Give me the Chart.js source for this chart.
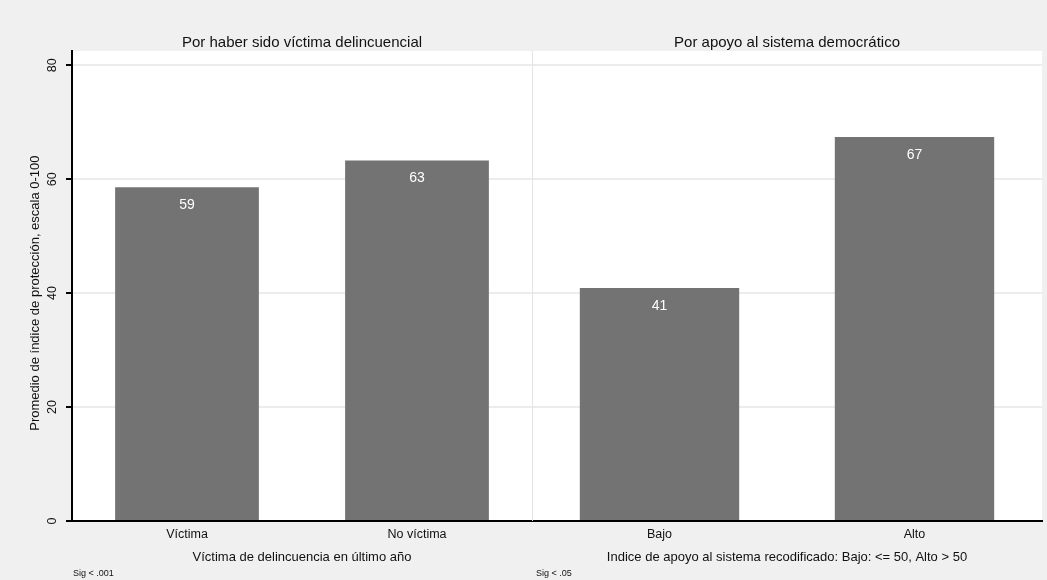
<!DOCTYPE html>
<html><head><meta charset="utf-8">
<script src="https://cdn.jsdelivr.net/npm/chart.js@4/dist/chart.umd.min.js"></script>
<style>
html,body{margin:0;padding:0;background:#f0f0f0;}
#wrap{position:relative;width:1047px;height:580px;overflow:hidden;background:#f0f0f0}
canvas{position:absolute;top:0}
#c1{left:0}
#c2{left:532px}
</style></head><body>
<div id="wrap"><canvas id="c1" width="532" height="580"></canvas><canvas id="c2" width="515" height="580"></canvas></div>
<script>
const victimCategories = ['Víctima', 'No víctima'];
const victimValues = [58.6, 63.3];
const supportCategories = ['Bajo', 'Alto'];
const supportValues = [40.9, 67.4];
const yTickValues = [0, 20, 40, 60, 80];
const yMax = 82.5;
const panelTitles = ['Por haber sido víctima delincuencial', 'Por apoyo al sistema democrático'];
const axisTitles = ['Víctima de delincuencia en último año', 'Indice de apoyo al sistema recodificado: Bajo: <= 50, Alto > 50'];
const sigNotes = ['Sig < .001', 'Sig < .05'];
const yTitle = 'Promedio de índice de protección, escala 0-100';

const FONT = '"Liberation Sans", Arial, Helvetica, sans-serif';
const TEXT = '#111111';

function makePanel(canvasId, cats, vals, idx) {
  const showY = idx === 0;
  const panelPlugin = {
    id: 'panel' + idx,
    beforeDraw(chart) {
      const a = chart.chartArea, c = chart.ctx;
      c.save();
      c.fillStyle = '#ffffff';
      c.fillRect(a.left, a.top, a.right - a.left, a.bottom - a.top);
      c.restore();
    },
    afterDraw(chart) {
      const a = chart.chartArea, c = chart.ctx;
      const yS = chart.scales.y;
      c.save();
      if (!showY) {
        c.strokeStyle = '#e4e4e4';
        c.lineWidth = 1;
        c.beginPath();
        c.moveTo(a.left + 0.5, a.top);
        c.lineTo(a.left + 0.5, a.bottom);
        c.stroke();
      }
      const cx = (a.left + a.right) / 2;
      c.fillStyle = TEXT;
      c.textAlign = 'center';
      c.textBaseline = 'middle';
      c.font = '15px ' + FONT;
      c.fillText(panelTitles[idx], cx, a.top - 8);
      c.font = '13px ' + FONT;
      c.fillText(axisTitles[idx], cx, a.bottom + 36);
      c.textAlign = 'left';
      c.font = '9px ' + FONT;
      c.fillText(sigNotes[idx], a.left + (showY ? 1 : 4), a.bottom + 53);
      // bar value labels
      const meta = chart.getDatasetMeta(0);
      c.textAlign = 'center';
      c.fillStyle = '#ffffff';
      c.font = '14px ' + FONT;
      meta.data.forEach((bar, i) => {
        c.fillText(String(Math.round(vals[i])), bar.x, bar.y + 18);
      });
      if (showY) {
        c.fillStyle = TEXT;
        c.font = '12.5px ' + FONT;
        yTickValues.forEach(v => {
          c.save();
          c.translate(a.left - 19, yS.getPixelForValue(v));
          c.rotate(-Math.PI / 2);
          c.fillText(String(v), 0, 0);
          c.restore();
        });
        c.font = '13px ' + FONT;
        c.save();
        c.translate(35, yS.getPixelForValue(40));
        c.rotate(-Math.PI / 2);
        c.fillText(yTitle, 0, 0);
        c.restore();
      }
      c.restore();
    }
  };
  return new Chart(document.getElementById(canvasId), {
    type: 'bar',
    data: {
      labels: cats,
      datasets: [{
        data: vals,
        backgroundColor: '#737373',
        borderWidth: 0,
        barPercentage: 0.625,
        categoryPercentage: 1
      }]
    },
    options: {
      responsive: false,
      animation: false,
      devicePixelRatio: 1,
      layout: { padding: { top: 51, left: 0, right: showY ? 0 : 5, bottom: 0 } },
      plugins: { legend: { display: false }, tooltip: { enabled: false } },
      scales: {
        x: {
          type: 'category',
          grid: { display: false, drawTicks: false },
          border: { display: true, color: '#000000', width: 2 },
          ticks: { font: { family: FONT, size: 12.5 }, color: TEXT, padding: 6 },
          afterFit: s => { s.height = 59; }
        },
        y: {
          min: 0,
          max: yMax,
          afterBuildTicks: s => { s.ticks = yTickValues.map(v => ({ value: v })); },
          grid: { color: '#ececec', lineWidth: 2, drawTicks: showY, tickLength: 6, tickColor: '#000000', tickWidth: 2 },
          border: { display: showY, color: '#000000', width: 2 },
          ticks: { display: false },
          afterFit: s => { s.width = showY ? 72 : 0; }
        }
      }
    },
    plugins: [panelPlugin]
  });
}

makePanel('c1', victimCategories, victimValues, 0);
makePanel('c2', supportCategories, supportValues, 1);
</script>
</body></html>
